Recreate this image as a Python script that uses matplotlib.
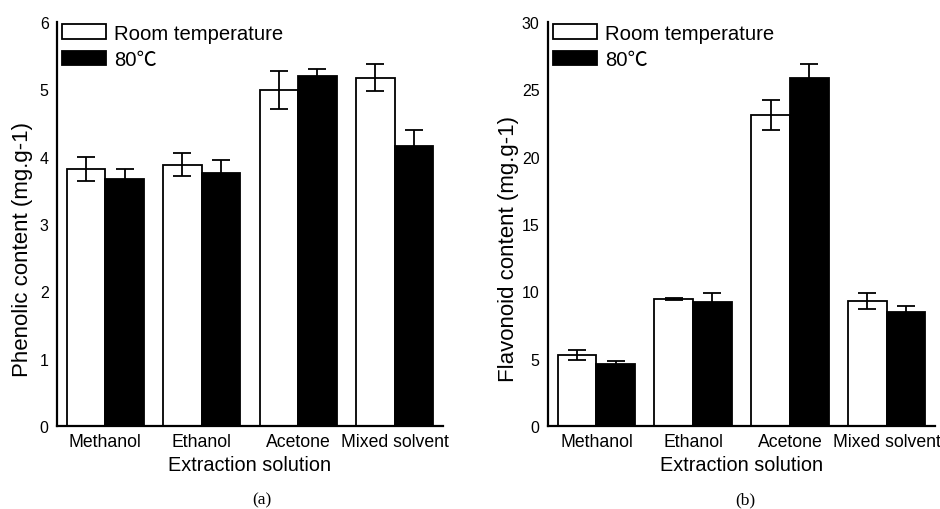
import numpy as np
from matplotlib import pyplot as plt

plt.rcParams['font.family'] = ['Liberation Sans', 'Noto Sans CJK SC', 'DejaVu Sans']

solvents = ['Methanol', 'Ethanol', 'Acetone', 'Mixed solvent']
series_labels = ['Room temperature', '80\u2103']

# (a) phenolic content
phenolic_room = [3.82, 3.88, 4.99, 5.17]
phenolic_room_err = [0.18, 0.17, 0.28, 0.20]
phenolic_80 = [3.67, 3.76, 5.20, 4.15]
phenolic_80_err = [0.15, 0.19, 0.10, 0.25]

# (b) flavonoid content
flavonoid_room = [5.27, 9.43, 23.1, 9.28]
flavonoid_room_err = [0.35, 0.06, 1.1, 0.62]
flavonoid_80 = [4.60, 9.23, 25.8, 8.49]
flavonoid_80_err = [0.22, 0.67, 1.1, 0.40]

fig = plt.figure(figsize=(9.4, 5.1), dpi=100)
ax1 = fig.add_axes([0.0606, 0.163, 0.4106, 0.792])
ax2 = fig.add_axes([0.583, 0.163, 0.4117, 0.792])


def draw_panel(ax, room, room_err, hot, hot_err, ymax, ystep, ylabel, ylab_x):
    x = np.arange(len(solvents))
    w = 0.4
    ekw = dict(ecolor='black', elinewidth=1.3, capsize=6.5, capthick=1.3)
    ax.bar(x - w / 2, room, w, yerr=room_err, color='white', edgecolor='black',
           linewidth=1.3, error_kw=ekw, label=series_labels[0], zorder=2)
    ax.bar(x + w / 2, hot, w, yerr=hot_err, color='black', edgecolor='black',
           linewidth=1.3, error_kw=ekw, label=series_labels[1], zorder=2)
    ax.set_xlim(-0.5, 3.5)
    ax.set_ylim(0, ymax)
    ax.set_yticks(np.arange(0, ymax + 0.01, ystep))
    ax.set_xticks(x)
    ax.set_xticklabels(solvents, fontsize=12.7)
    ax.tick_params(axis='y', length=0, pad=6, labelsize=11.5)
    ax.tick_params(axis='x', length=0, pad=5)
    for s in ['top', 'right']:
        ax.spines[s].set_visible(False)
    for s in ['left', 'bottom']:
        ax.spines[s].set_linewidth(1.6)
    ax.set_xlabel('Extraction solution', fontsize=14.3, labelpad=4)
    ax.set_ylabel(ylabel, fontsize=16)
    ax.yaxis.set_label_coords(ylab_x, 0.44)
    ax.legend(loc='upper left', bbox_to_anchor=(0.012, 0.995), frameon=False,
              fontsize=14.6, handlelength=2.2, handleheight=0.75,
              handletextpad=0.4, labelspacing=0.35, borderpad=0, borderaxespad=0)


draw_panel(ax1, phenolic_room, phenolic_room_err, phenolic_80, phenolic_80_err,
           6, 1, 'Phenolic content (mg.g-1)', -0.062)
draw_panel(ax2, flavonoid_room, flavonoid_room_err, flavonoid_80, flavonoid_80_err,
           30, 5, 'Flavonoid content (mg.g-1)', -0.075)

fig.text(0.279, 0.018, '(a)', family='Liberation Serif', fontsize=12.5,
         ha='center', va='center')
fig.text(0.7926, 0.018, '(b)', family='Liberation Serif', fontsize=12.5,
         ha='center', va='center')

fig.savefig('out.png', dpi=100)
